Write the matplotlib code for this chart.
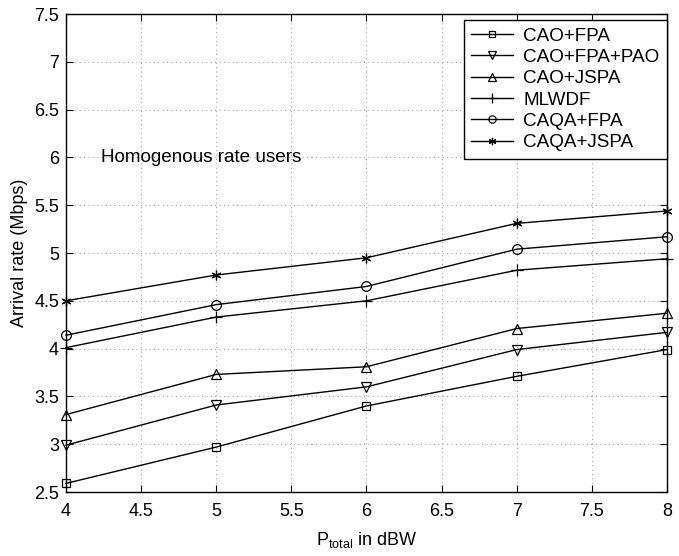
import matplotlib

matplotlib.use("Agg")
import matplotlib.pyplot as plt

plt.rcParams["font.family"] = ["Liberation Sans", "DejaVu Sans"]
plt.rcParams["mathtext.fontset"] = "custom"
plt.rcParams["mathtext.rm"] = "Liberation Sans"
plt.rcParams["mathtext.it"] = "Liberation Sans"

power_dbw = [4, 5, 6, 7, 8]

cao_fpa = [2.59, 2.97, 3.40, 3.71, 3.99]
cao_fpa_pao = [2.99, 3.41, 3.60, 3.99, 4.17]
cao_jspa = [3.31, 3.73, 3.81, 4.21, 4.37]
mlwdf = [4.01, 4.33, 4.50, 4.82, 4.94]
caqa_fpa = [4.14, 4.46, 4.65, 5.04, 5.17]
caqa_jspa = [4.50, 4.77, 4.95, 5.31, 5.44]

labels = ["CAO+FPA", "CAO+FPA+PAO", "CAO+JSPA", "MLWDF", "CAQA+FPA", "CAQA+JSPA"]
series = [cao_fpa, cao_fpa_pao, cao_jspa, mlwdf, caqa_fpa, caqa_jspa]
markers = ["s", "v", "^", "+", "o", (6, 2, 0)]
sizes = [6, 7, 7, 9, 7, 7]

fig = plt.figure(figsize=(6.79, 5.56), dpi=100)
ax = fig.add_axes([0.0972, 0.1151, 0.8851, 0.8597])

for ys, lab, m, ms in zip(series, labels, markers, sizes):
    ax.plot(power_dbw, ys, color="black", linewidth=1.0, marker=m,
            markersize=ms, markerfacecolor="none", markeredgecolor="black",
            markeredgewidth=0.9, label=lab, clip_on=False)

ax.set_xlim(4, 8)
ax.set_ylim(2.5, 7.5)
ax.set_xticks([4, 4.5, 5, 5.5, 6, 6.5, 7, 7.5, 8])
ax.set_xticklabels(["4", "4.5", "5", "5.5", "6", "6.5", "7", "7.5", "8"])
ax.set_yticks([2.5, 3, 3.5, 4, 4.5, 5, 5.5, 6, 6.5, 7, 7.5])
ax.set_yticklabels(["2.5", "3", "3.5", "4", "4.5", "5", "5.5", "6", "6.5", "7", "7.5"])
ax.tick_params(direction="in", top=True, right=True, labelsize=13, length=5)
ax.tick_params(axis="x", pad=8)
ax.tick_params(axis="y", pad=5)
ax.grid(True, linestyle=(0, (1, 3.5)), color="#999999", linewidth=0.7)
for sp in ax.spines.values():
    sp.set_linewidth(1.0)

ax.set_xlabel(r"P$_{\mathrm{total}}$ in dBW", fontsize=13, labelpad=7)
ax.set_ylabel("Arrival rate (Mbps)", fontsize=13, labelpad=4)
ax.text(4.23, 6.0, "Homogenous rate users", fontsize=13.6, va="center", ha="left")

leg = ax.legend(loc="upper right", bbox_to_anchor=(1.0, 0.988), borderaxespad=0,
                fontsize=13.6, fancybox=False, edgecolor="black", framealpha=1,
                handlelength=2.2, borderpad=0.4, labelspacing=0.22,
                handletextpad=0.55, markerscale=0.75)
leg.get_frame().set_linewidth(1.0)

fig.savefig("out.png", dpi=100)
